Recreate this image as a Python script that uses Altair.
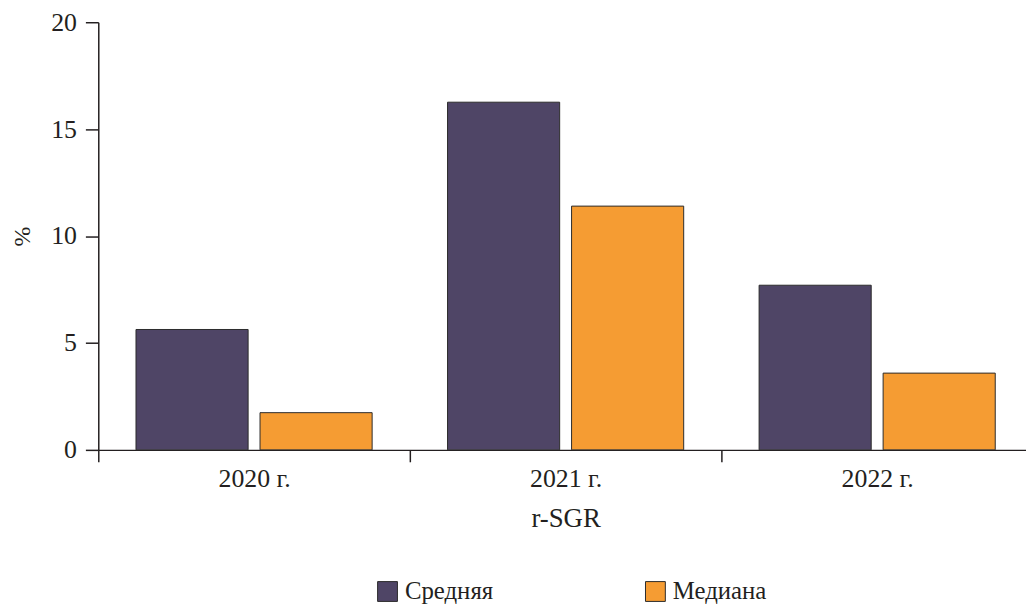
import altair as alt
import pandas as pd

years = ["2020 г.", "2021 г.", "2022 г."]
series = ["Средняя", "Медиана"]
mean_vals = [5.63, 16.26, 7.70]
median_vals = [1.74, 11.40, 3.59]
colors = ["#4f4566", "#f59c33"]

rows = []
for i, y in enumerate(years):
    rows.append({"year": y, "series": series[0], "value": mean_vals[i]})
    rows.append({"year": y, "series": series[1], "value": median_vals[i]})
df = pd.DataFrame(rows)

FONT = "Liberation Serif"
INK = "#231f20"

chart = alt.Chart(df).mark_bar(stroke="#2b2b2b", strokeWidth=1).encode(
    x=alt.X(
        "year:N",
        sort=years,
        scale=alt.Scale(range=[0, 942], paddingInner=0, paddingOuter=0),
        axis=alt.Axis(
            title="r-SGR",
            labelAngle=0,
            tickBand="extent",
            tickSize=12,
            labelPadding=4,
            labelFontSize=26,
            titleFontSize=27,
            titlePadding=14,
        ),
    ),
    xOffset=alt.XOffset(
        "series:N",
        sort=series,
        scale=alt.Scale(paddingInner=0.096, paddingOuter=0.304),
    ),
    y=alt.Y(
        "value:Q",
        scale=alt.Scale(domain=[0, 20]),
        axis=alt.Axis(
            values=[0, 5, 10, 15, 20],
            title="%",
            grid=False,
            tickSize=13,
            labelPadding=9,
            labelFontSize=26,
            titleFontSize=24,
            titlePadding=16,
        ),
    ),
    color=alt.Color(
        "series:N",
        sort=series,
        scale=alt.Scale(domain=series, range=colors),
        legend=alt.Legend(
            title=None,
            orient="none",
            legendX=279,
            legendY=561,
            direction="horizontal",
            symbolType="square",
            symbolSize=400,
            symbolStrokeColor="#2b2b2b",
            symbolStrokeWidth=1,
            symbolOpacity=1,
            labelFont=FONT,
            labelFontSize=25,
            labelColor=INK,
            labelOffset=5,
            columnPadding=150,
        ),
    ),
).properties(
    width=935,
    height=431,
    autosize="none",
    padding={"left": 91, "top": 12, "right": 0, "bottom": 154},
).configure_view(
    stroke=None
).configure_axis(
    domainColor=INK,
    tickColor=INK,
    domainWidth=1.5,
    tickWidth=1.5,
    labelFont=FONT,
    labelColor=INK,
    titleFont=FONT,
    titleFontWeight="normal",
    titleColor=INK,
)

chart.save("out.html", embed_options={"renderer": "svg", "actions": False})
